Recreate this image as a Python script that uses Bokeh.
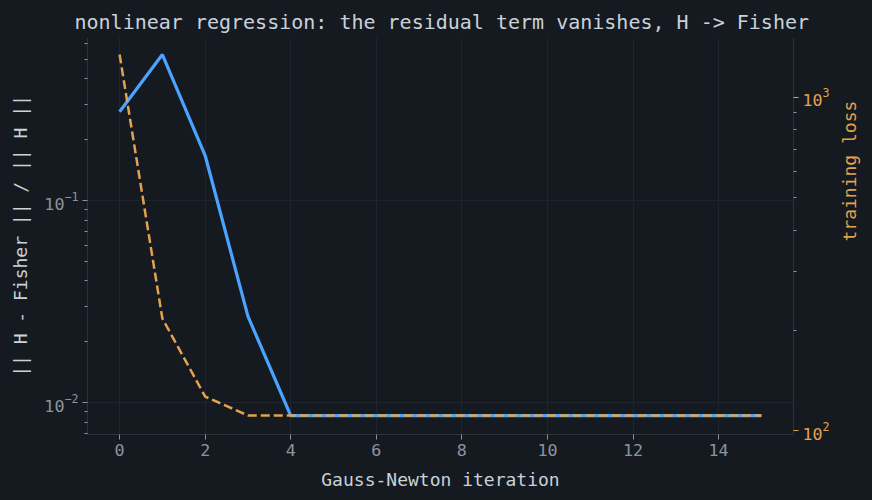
import math
from bokeh.plotting import figure
from bokeh.layouts import row
from bokeh.models import Range1d, LogScale, LogAxis, FixedTicker, LogTickFormatter, Label
from bokeh.embed import file_html
from bokeh.resources import INLINE

# ---- data ----
iterations = list(range(16))
rel_diff = [0.275, 0.528, 0.167, 0.0267, 0.00862, 0.00862, 0.00862, 0.00862,
            0.00862, 0.00862, 0.00862, 0.00862, 0.00862, 0.00862, 0.00862, 0.00862]
train_loss = [1346, 217, 126.5, 111, 111, 111, 111, 111,
              111, 111, 111, 111, 111, 111, 111, 111]
x_ticks = [0, 2, 4, 6, 8, 10, 12, 14]
left_major = [0.01, 0.1]
left_minor = [0.002, 0.003, 0.004, 0.005, 0.006, 0.007, 0.008, 0.009,
              0.02, 0.03, 0.04, 0.05, 0.06, 0.07, 0.08, 0.09,
              0.2, 0.3, 0.4, 0.5, 0.6, 0.7, 0.8, 0.9]
right_major = [100, 1000]
right_minor = [20, 30, 40, 50, 60, 70, 80, 90, 200, 300, 400, 500, 600, 700, 800, 900,
               2000, 3000]
right_label = "training loss"

BG = "#151a21"
TXT = "#c9d1d9"
TICKTXT = "#8b949e"
GRID = "#1f252d"
SPINE = "#2d333b"
BLUE = "#4aa3ff"
ORANGE = "#e3a24f"
FONT = "DejaVu Sans Mono"

p = figure(width=836, height=500, output_backend="svg", toolbar_location=None,
           y_axis_type="log",
           x_range=Range1d(-0.75, 15.75), y_range=Range1d(0.00695, 0.641),
           min_border_left=87, min_border_right=43, min_border_top=37, min_border_bottom=66)
p.extra_y_ranges = {"loss": Range1d(97.3, 1514)}
p.extra_y_scales = {"loss": LogScale()}

p.background_fill_color = BG
p.border_fill_color = BG
p.outline_line_color = None

p.title.text = "nonlinear regression: the residual term vanishes, H -> Fisher"
p.title.align = "left"
p.title.offset = -13
p.title.text_color = TXT
p.title.text_font = FONT
p.title.text_font_size = "20px"
p.title.text_font_style = "normal"
p.title.standoff = 8

p.xgrid.grid_line_color = GRID
p.ygrid.grid_line_color = GRID

p.xaxis.ticker = FixedTicker(ticks=x_ticks)
p.xaxis.axis_label = "Gauss-Newton iteration"

p.yaxis.ticker = FixedTicker(ticks=left_major, minor_ticks=left_minor)
p.yaxis.formatter = LogTickFormatter()
p.yaxis.axis_label = "|| H - Fisher || / || H ||"

ax_r = LogAxis(y_range_name="loss",
               ticker=FixedTicker(ticks=right_major, minor_ticks=right_minor),
               formatter=LogTickFormatter())
p.add_layout(ax_r, "right")

for ax in [p.xaxis[0], p.yaxis[0], ax_r]:
    ax.axis_line_color = SPINE
    ax.major_tick_line_color = TICKTXT
    ax.minor_tick_line_color = TICKTXT
    ax.major_tick_out = 5
    ax.major_tick_in = 0
    ax.minor_tick_out = 3
    ax.minor_tick_in = 0
    ax.major_label_text_color = TICKTXT
    ax.major_label_text_font = FONT
    ax.major_label_text_font_size = "16.7px"
    ax.axis_label_text_font = FONT
    ax.axis_label_text_font_size = "18px"
    ax.axis_label_text_font_style = "normal"
    ax.axis_label_text_color = TXT
    ax.major_label_standoff = 4
    ax.axis_label_standoff = 10

p.xaxis[0].minor_tick_line_color = None
ax_r.major_label_text_color = ORANGE
ax_r.major_tick_line_color = ORANGE

p.line(iterations, rel_diff, line_color=BLUE, line_width=3.2)
p.line(iterations, train_loss, y_range_name="loss", line_color=ORANGE,
       line_width=2.5, line_dash="9 4")

# thin side panel that carries the right-hand axis title (reads bottom-to-top)
p2 = figure(width=36, height=500, output_backend="svg", toolbar_location=None,
            x_range=Range1d(0, 1), y_range=Range1d(0, 1), min_border=0)
p2.axis.visible = False
p2.grid.visible = False
p2.outline_line_color = None
p2.background_fill_color = BG
p2.border_fill_color = BG
p2.add_layout(Label(x=13, y=193, x_units="screen", y_units="screen", text=right_label,
                    angle=math.pi / 2, text_align="left", text_baseline="middle",
                    text_font=FONT, text_font_size="18px", text_color=ORANGE))

layout = row(p, p2, spacing=0)
html = file_html(layout, INLINE)
style = "<style>html,body{margin:0;padding:0;background:%s;overflow:hidden;}</style>" % BG
html = html.replace("</head>", style + "</head>", 1)
open("out.html", "w").write(html)
